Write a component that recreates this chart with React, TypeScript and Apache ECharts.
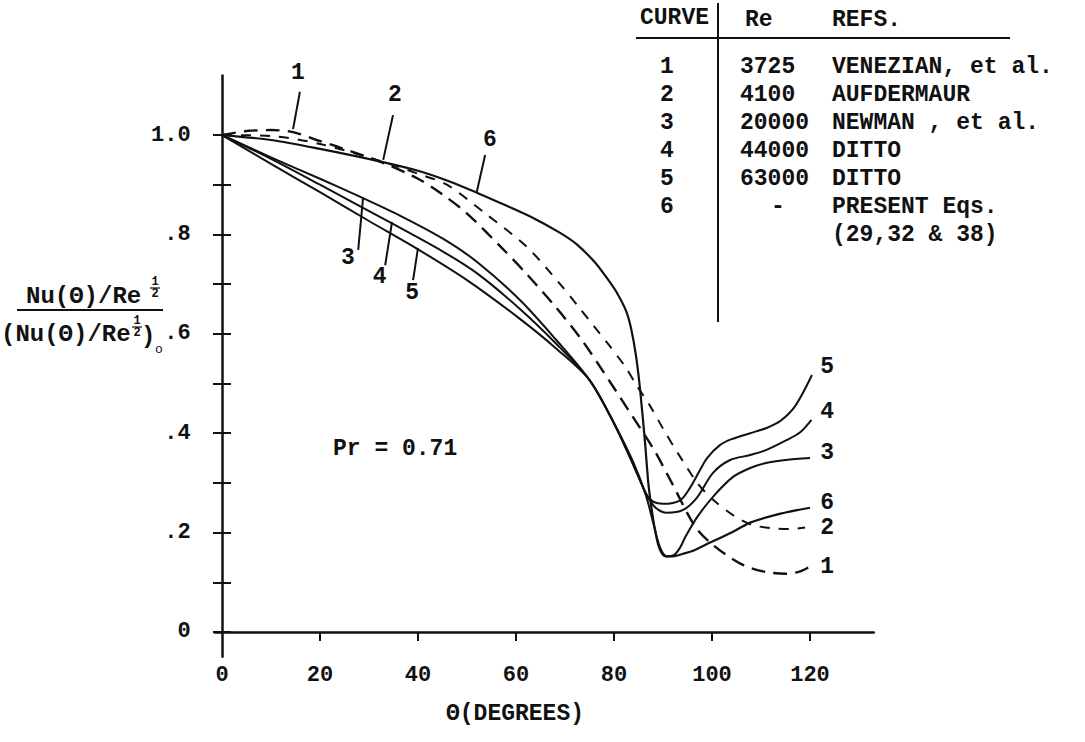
import React, { useEffect, useRef } from "react";
import * as echarts from "echarts";

const FONT = '"Liberation Mono", "DejaVu Sans Mono", monospace';
const INK = "#111";

// ---- data (theta in degrees, normalized Nu) ----
const curve1 = [[0,1.0],[5,1.008],[10,1.01],[14.5,1.006],[19.3,0.99],[24,0.975],[32.6,0.945],[40,0.912],[44.5,0.884],[49.9,0.843],[57.1,0.773],[62.2,0.72],[68,0.655],[73.4,0.588],[79.2,0.503],[83.7,0.435],[88.2,0.366],[91.8,0.3],[96.5,0.213],[100.2,0.175],[105.9,0.137],[110.4,0.122],[115,0.117],[118,0.122],[120,0.132]];
const curve2 = [[0,1.0],[10,0.998],[20,0.982],[32.9,0.946],[40,0.922],[45.9,0.9],[54,0.84],[62.2,0.775],[69,0.7],[72.7,0.655],[76.1,0.613],[79,0.577],[82.2,0.535],[84.7,0.495],[87.3,0.456],[90.2,0.406],[92.9,0.362],[97,0.3],[100,0.268],[104.3,0.235],[108,0.216],[112,0.209],[116,0.207],[119,0.21]];
const curve3 = [[0,1.0],[10,0.955],[20,0.912],[28.8,0.873],[36.3,0.838],[45,0.792],[52,0.745],[60.8,0.668],[68,0.59],[75,0.507],[80,0.42],[84,0.34],[86.5,0.275],[88,0.22],[89.4,0.17],[90.8,0.152],[92.3,0.155],[93.5,0.17],[94.5,0.19],[96.9,0.23],[100.2,0.272],[104.3,0.312],[107.8,0.33],[111,0.34],[115,0.346],[120,0.35]];
const curve4 = [[0,1.0],[10,0.952],[20,0.9],[34.7,0.822],[45,0.766],[52,0.722],[60.8,0.65],[68,0.582],[75,0.507],[80,0.42],[84,0.335],[86.7,0.275],[88.5,0.25],[90.8,0.24],[94,0.245],[96.9,0.27],[100.2,0.32],[103.7,0.346],[107.8,0.356],[111,0.366],[115.2,0.386],[118,0.402],[120.3,0.427]];
const curve5 = [[0,1.0],[10,0.942],[20,0.885],[30,0.827],[40,0.77],[50,0.708],[60.8,0.63],[68,0.572],[75,0.507],[80,0.42],[84,0.335],[86.7,0.275],[88,0.262],[90,0.258],[93.5,0.265],[95.5,0.29],[97.5,0.325],[99,0.35],[101.6,0.376],[104,0.388],[107.8,0.4],[111,0.41],[114,0.425],[117,0.455],[120.4,0.517]];
const curve6 = [[0,1.0],[10,0.99],[20,0.972],[32.6,0.946],[40,0.928],[46.3,0.907],[52,0.884],[58,0.858],[63.5,0.833],[69,0.803],[72.4,0.78],[76,0.745],[78.5,0.713],[80.5,0.684],[82.5,0.645],[83.5,0.61],[84.5,0.555],[85.3,0.49],[86.3,0.385],[87,0.3],[87.5,0.26],[88.2,0.215],[89.2,0.17],[90.5,0.152],[92,0.152],[94,0.157],[96,0.163],[99.6,0.18],[104,0.2],[107.8,0.22],[114,0.238],[120,0.25]];

// ---- axes ----
const xTickValues = [20, 40, 60, 80, 100, 120];
const xLabelValues = [0, 20, 40, 60, 80, 100, 120];
const yTickValues = [0, 0.1, 0.2, 0.3, 0.4, 0.5, 0.6, 0.7, 0.8, 0.9, 1.0];
const yLabelValues = [0, 0.2, 0.4, 0.6, 0.8, 1.0];
const yLabelTexts = ["0", ".2", ".4", ".6", ".8", "1.0"];

// ---- curve labels ----
const endLabels = [[123.5, 0.533, "5"], [123.5, 0.443, "4"], [123.5, 0.36, "3"], [123.5, 0.26, "6"], [123.5, 0.209, "2"], [123.5, 0.131, "1"]];
const innerLabels = [[15.5, 1.125, "1"], [35.3, 1.08, "2"], [54.7, 0.99, "6"], [25.7, 0.753, "3"], [32.2, 0.714, "4"], [38.8, 0.682, "5"]];
const leaders = [
  [[15.9, 1.087], [14.5, 1.012]],
  [[34.9, 1.04], [32.9, 0.95]],
  [[53.7, 0.96], [52, 0.886]],
  [[27.8, 0.769], [28.8, 0.875]],
  [[33.3, 0.738], [34.7, 0.825]],
  [[39, 0.708], [40, 0.773]],
];

// ---- table ----
const tableCurves = ["1", "2", "3", "4", "5", "6"];
const tableRe = ["3725", "4100", "20000", "44000", "63000", "-"];
const tableRefs = ["VENEZIAN, et al.", "AUFDERMAUR", "NEWMAN , et al.", "DITTO", "DITTO", "PRESENT Eqs.", "(29,32 & 38)"];

const txt = (x: number, y: number, text: string, size = 24, align = "left", weight = "bold") => ({
  type: "text",
  x,
  y,
  style: { text, fill: INK, font: `${weight} ${size}px ${FONT}`, textAlign: align, textVerticalAlign: "middle" },
});

export default function App() {
  const ref = useRef<HTMLDivElement>(null);
  useEffect(() => {
    const chart = echarts.init(ref.current!, null, { renderer: "svg" });
    const mk = (name: string, data: number[][], w: number, type: any) => ({
      name,
      type: "line",
      data,
      smooth: 0.3,
      showSymbol: false,
      symbol: "none",
      lineStyle: { color: INK, width: w, type },
      silent: true,
    });
    const rowY = (i: number) => 67 + i * 28;
    const graphics: any[] = [
      // table
      { type: "line", shape: { x1: 718, y1: 3, x2: 718, y2: 322 }, style: { stroke: INK, lineWidth: 2 } },
      { type: "line", shape: { x1: 636, y1: 38, x2: 1010, y2: 38 }, style: { stroke: INK, lineWidth: 2 } },
      txt(640, 18, "CURVE", 23),
      txt(745, 20, "Re", 23),
      txt(832, 20, "REFS.", 23),
      ...tableCurves.map((c, i) => txt(667, rowY(i), c, 23, "center")),
      ...tableRe.map((r, i) => (r === "-" ? txt(778, rowY(i), r, 23, "center") : txt(740, rowY(i), r, 23))),
      ...tableRefs.map((r, i) => txt(832, rowY(i), r, 23)),
      // Pr
      txt(333, 449, "Pr = 0.71", 23),
      // x axis name
      txt(515, 714, "\u0398(DEGREES)", 23, "center"),
      // y axis name (fraction)
      txt(26, 296, "Nu(\u0398)/Re", 24),
      txt(155, 282, "1", 12, "center"),
      { type: "line", shape: { x1: 150, y1: 288, x2: 160, y2: 288 }, style: { stroke: INK, lineWidth: 1.2 } },
      txt(155, 294, "2", 12, "center"),
      { type: "line", shape: { x1: 17, y1: 310, x2: 163, y2: 310 }, style: { stroke: INK, lineWidth: 2 } },
      txt(1, 334, "(Nu(\u0398)/Re", 24),
      txt(137, 321, "1", 12, "center"),
      { type: "line", shape: { x1: 132, y1: 327, x2: 142, y2: 327 }, style: { stroke: INK, lineWidth: 1.2 } },
      txt(137, 333, "2", 12, "center"),
      txt(141, 336, ")", 24),
      txt(155, 349, "o", 13, "left", "normal"),
    ];

    const allLabels = [...endLabels, ...innerLabels];
    const axisTickStyle = { color: INK, width: 2 };
    chart.setOption({
      animation: false,
      backgroundColor: "#ffffff",
      grid: { left: 214.65, right: 211.3, top: 75.4, bottom: 85.2, containLabel: false },
      xAxis: [
        {
          type: "value", min: -1.5, max: 133,
          axisLine: { show: true, onZero: true, lineStyle: { color: INK, width: 2.5 } },
          axisTick: { show: true, customValues: xTickValues, length: 9, inside: false, lineStyle: axisTickStyle },
          axisLabel: { show: true, customValues: xLabelValues, margin: 8, color: INK, fontSize: 22, fontWeight: "bold", fontFamily: FONT },
          splitLine: { show: false },
        },
        {
          type: "value", min: -1.5, max: 133,
          axisLine: { show: false, onZero: true },
          axisTick: { show: true, customValues: xTickValues, length: 9, inside: true, lineStyle: axisTickStyle },
          axisLabel: { show: false },
          splitLine: { show: false },
        },
      ],
      yAxis: [
        {
          type: "value", min: -0.05, max: 1.12, position: "left",
          axisLine: { show: true, onZero: true, lineStyle: { color: INK, width: 2.5 } },
          axisTick: { show: true, customValues: yTickValues, length: 9, inside: false, lineStyle: axisTickStyle },
          axisLabel: {
            show: true, customValues: yLabelValues, margin: 24, color: INK, fontSize: 22, fontWeight: "bold", fontFamily: FONT,
            formatter: (v: number) => yLabelTexts[Math.round(v * 5)],
          },
          splitLine: { show: false },
        },
        {
          type: "value", min: -0.05, max: 1.12, position: "left",
          axisLine: { show: false, onZero: true },
          axisTick: { show: true, customValues: yTickValues, length: 9, inside: true, lineStyle: axisTickStyle },
          axisLabel: { show: false },
          splitLine: { show: false },
        },
      ],
      series: [
        mk("1", curve1, 2.4, [14, 8]),
        mk("2", curve2, 2, [10, 9]),
        mk("3", curve3, 2, "solid"),
        mk("4", curve4, 2, "solid"),
        mk("5", curve5, 2, "solid"),
        mk("6", curve6, 2.2, "solid"),
        ...leaders.map((l, i) => ({
          name: "leader" + i, type: "line", data: l, showSymbol: false, symbol: "none", silent: true,
          lineStyle: { color: INK, width: 2 },
        })),
        {
          name: "labels", type: "custom", silent: true, clip: false,
          data: allLabels.map((l) => [l[0], l[1]]),
          renderItem: (params: any, api: any) => {
            const p = api.coord([api.value(0), api.value(1)]);
            return {
              type: "text", x: p[0], y: p[1],
              style: { text: String(allLabels[params.dataIndex][2]), fill: INK, font: `bold 23px ${FONT}`, textAlign: "center", textVerticalAlign: "middle" },
            };
          },
        },
      ],
      graphic: graphics,
    });
    return () => chart.dispose();
  }, []);
  return <div ref={ref} style={{ position: "absolute", left: 0, top: 0, width: 1085, height: 742, background: "#fff" }} />;
}
